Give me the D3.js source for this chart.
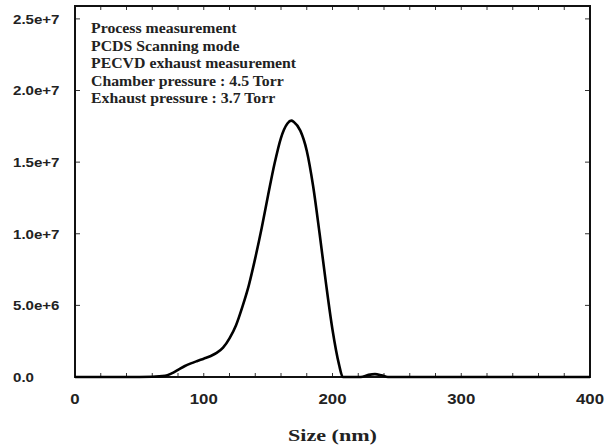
<!DOCTYPE html>
<html>
<head>
<meta charset="utf-8">
<script src="https://cdn.jsdelivr.net/npm/d3@7"></script>
<style>
  body { margin: 0; background: #fff; }
  svg { display: block; }
  .tick-label { font-family: "Liberation Sans", Arial, sans-serif; font-weight: bold; font-size: 13px; fill: #222; }
  .note { font-family: "Liberation Serif", "Times New Roman", serif; font-weight: bold; font-size: 14px; fill: #222; }
</style>
</head>
<body>
<svg id="chart"></svg>
<script>
// size distribution (nm, counts)
const sizes = [0, 20, 40, 60, 70, 75, 80, 85, 90, 95, 100, 105, 110, 115, 120, 125, 130, 135, 140, 145,
  150, 155, 160, 165, 168, 170, 175, 180, 185, 190, 195, 200, 205, 208, 215, 222, 228, 233, 238, 243, 250, 300, 350, 400];
const counts = [0, 0, 0, 0.02e6, 0.08e6, 0.25e6, 0.5e6, 0.75e6, 0.95e6, 1.12e6, 1.28e6, 1.45e6, 1.68e6, 2.05e6, 2.7e6, 3.6e6, 4.9e6, 6.4e6, 8.3e6, 10.4e6,
  12.7e6, 14.9e6, 16.7e6, 17.7e6, 17.9e6, 17.8e6, 17.2e6, 15.8e6, 13.3e6, 10.0e6, 6.5e6, 3.3e6, 0.9e6, 0, 0, 0, 0.15e6, 0.2e6, 0.12e6, 0, 0, 0, 0, 0];

const xTicks = [0, 100, 200, 300, 400];
const yTicks = [0, 5e6, 1e7, 1.5e7, 2e7, 2.5e7];
const yTickLabels = ['0.0', '5.0e+6', '1.0e+7', '1.5e+7', '2.0e+7', '2.5e+7'];
const notes = ['Process measurement', 'PCDS Scanning mode', 'PECVD exhaust measurement',
  'Chamber pressure : 4.5 Torr', 'Exhaust pressure : 3.7 Torr'];

const width = 614, height = 445;
const margin = {top: 6, right: 24, bottom: 68, left: 75};

const svg = d3.select('#chart').attr('width', width).attr('height', height);

const x = d3.scaleLinear().domain([0, 400]).range([margin.left, width - margin.right]);
const y = d3.scaleLinear().domain([0, 2.59e7]).range([height - margin.bottom, margin.top]);

// the source figure is a bit wider than tall, so text gets stretched sideways
const stretch = (sel, ax, s) => sel.attr('transform', `translate(${ax},0) scale(${s},1) translate(${-ax},0)`);

// minor ticks every 20 nm, pointing inward, on bottom and top
const xMinor = d3.range(20, 400, 20);
svg.append('g')
  .selectAll('line')
  .data(xMinor)
  .join('line')
  .attr('x1', d => x(d)).attr('x2', d => x(d))
  .attr('y1', y(0)).attr('y2', y(0) - 4)
  .attr('stroke', '#333').attr('stroke-width', 1);
svg.append('g')
  .selectAll('line')
  .data(xMinor)
  .join('line')
  .attr('x1', d => x(d)).attr('x2', d => x(d))
  .attr('y1', y.range()[1]).attr('y2', y.range()[1] + 4)
  .attr('stroke', '#333').attr('stroke-width', 1);

// y ticks inward on both sides
svg.append('g')
  .selectAll('line')
  .data(yTicks.slice(1))
  .join('line')
  .attr('x1', x(0)).attr('x2', x(0) + 5)
  .attr('y1', d => y(d)).attr('y2', d => y(d))
  .attr('stroke', '#333').attr('stroke-width', 1);
svg.append('g')
  .selectAll('line')
  .data(yTicks.slice(1))
  .join('line')
  .attr('x1', x(400)).attr('x2', x(400) - 5)
  .attr('y1', d => y(d)).attr('y2', d => y(d))
  .attr('stroke', '#333').attr('stroke-width', 1);

// frame
svg.append('rect')
  .attr('x', x(0)).attr('y', y.range()[1])
  .attr('width', x(400) - x(0)).attr('height', y(0) - y.range()[1])
  .attr('fill', 'none').attr('stroke', '#111').attr('stroke-width', 2);

// tick labels
svg.append('g')
  .selectAll('text')
  .data(xTicks)
  .join('text')
  .attr('class', 'tick-label')
  .style('font-size', '14px')
  .attr('x', d => x(d)).attr('y', 404)
  .attr('text-anchor', 'middle')
  .text(d => d)
  .each(function(d) { stretch(d3.select(this), x(d), 1.2); });

svg.append('g')
  .selectAll('text')
  .data(yTicks)
  .join('text')
  .attr('class', 'tick-label')
  .attr('x', 13).attr('y', d => y(d) + 5)
  .text((d, i) => yTickLabels[i])
  .each(function() { stretch(d3.select(this), 13, 1.16); });

// the curve
const line = d3.line()
  .x((d, i) => x(sizes[i]))
  .y(d => y(d))
  .curve(d3.curveMonotoneX);

svg.append('path')
  .datum(counts)
  .attr('d', line)
  .attr('fill', 'none')
  .attr('stroke', '#000')
  .attr('stroke-width', 2.6)
  .attr('stroke-linejoin', 'round');

// annotation block
svg.append('g')
  .selectAll('text')
  .data(notes)
  .join('text')
  .attr('class', 'note')
  .attr('x', 91)
  .attr('y', (d, i) => 33 + i * 17.6)
  .text(d => d)
  .each(function() { stretch(d3.select(this), 91, 1.13); });

svg.append('text')
  .attr('class', 'note')
  .attr('x', (x(0) + x(400)) / 2)
  .attr('y', 441)
  .attr('text-anchor', 'middle')
  .style('font-size', '17px')
  .text('Size (nm)')
  .call(stretch, (x(0) + x(400)) / 2, 1.3);
</script>
</body>
</html>
